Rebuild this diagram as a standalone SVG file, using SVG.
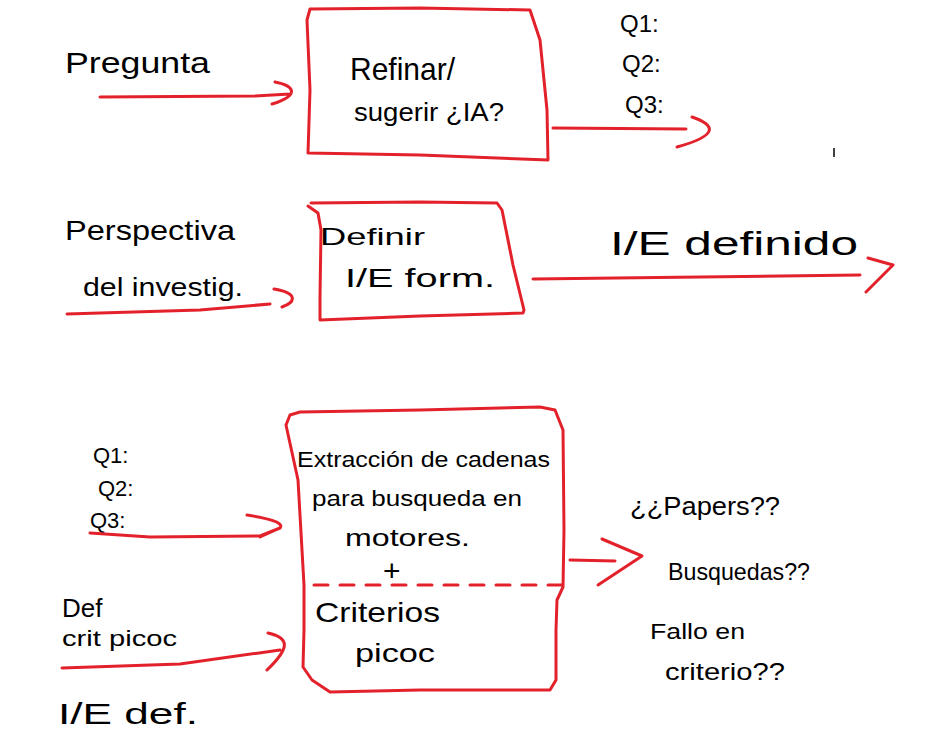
<svg xmlns="http://www.w3.org/2000/svg" width="928" height="743" viewBox="0 0 928 743">
<style>
.r{fill:none;stroke:#e3212b;stroke-width:3;stroke-linecap:round;stroke-linejoin:round}
.d{stroke-dasharray:14 12}
text{font-family:"Liberation Sans","DejaVu Sans",sans-serif;fill:#000}
</style>
<rect width="928" height="743" fill="#fff"/>
<g id="labels">
<text x="65" y="73" font-size="30" textLength="145" lengthAdjust="spacingAndGlyphs">Pregunta</text>
<text x="620" y="32" font-size="24">Q1:</text>
<text x="622" y="72" font-size="24">Q2:</text>
<text x="625" y="113" font-size="24">Q3:</text>
<text x="65" y="240" font-size="28" textLength="170" lengthAdjust="spacingAndGlyphs">Perspectiva</text>
<text x="83" y="296" font-size="26" textLength="160" lengthAdjust="spacingAndGlyphs">del investig.</text>
<text x="610" y="255" font-size="34" textLength="248" lengthAdjust="spacingAndGlyphs">I/E definido</text>
<text x="93" y="463" font-size="22">Q1:</text>
<text x="98" y="496" font-size="22">Q2:</text>
<text x="90" y="528" font-size="22">Q3:</text>
<text x="62" y="617" font-size="26">Def</text>
<text x="62" y="646" font-size="22" textLength="115" lengthAdjust="spacingAndGlyphs">crit picoc</text>
<text x="58" y="724" font-size="30" textLength="140" lengthAdjust="spacingAndGlyphs">I/E def.</text>
<text x="630" y="515" font-size="26" textLength="150" lengthAdjust="spacingAndGlyphs">¿¿Papers??</text>
<text x="668" y="580" font-size="24" textLength="142" lengthAdjust="spacingAndGlyphs">Busquedas??</text>
<text x="650" y="639" font-size="22" textLength="95" lengthAdjust="spacingAndGlyphs">Fallo en</text>
<text x="665" y="680" font-size="24" textLength="120" lengthAdjust="spacingAndGlyphs">criterio??</text>
<line x1="834" y1="148" x2="834" y2="157" stroke="#000" stroke-width="1.5"/>
</g>
<g id="node-refinar">
<path class="r" d="M310,9 L307,20 L310,90 L308,153 L420,155 L548,160 L547,110 L540,40 L530,10 L420,8 Z"/>
<text x="350" y="80" font-size="32" textLength="105" lengthAdjust="spacingAndGlyphs">Refinar/</text>
<text x="354" y="121" font-size="26" textLength="150" lengthAdjust="spacingAndGlyphs">sugerir ¿IA?</text>
</g>
<g id="node-definir">
<path class="r" d="M311,203 L420,202 L497,203 L502,210 L513,265 L524,310 L523,313 L420,316 L320,320 L320,297 L321,230 L318,213 L308,206"/>
<text x="320" y="245" font-size="24" textLength="105" lengthAdjust="spacingAndGlyphs">Definir</text>
<text x="345" y="287" font-size="26" textLength="150" lengthAdjust="spacingAndGlyphs">I/E form.</text>
</g>
<g id="node-extraccion">
<path class="r" d="M290,415 L286,425 L298,480 L304,585 L304,630 L303,667 L312,680 L330,692 L420,690 L550,690 L556,680 L556,630 L557,600 L563,587 L564,530 L563,430 L555,410 L540,407 L420,410 L300,412 Z"/>
<line class="r d" x1="314" y1="585" x2="566" y2="585"/>
<text x="297" y="467" font-size="22" textLength="253" lengthAdjust="spacingAndGlyphs">Extracción de cadenas</text>
<text x="312" y="506" font-size="22" textLength="210" lengthAdjust="spacingAndGlyphs">para busqueda en</text>
<text x="345" y="546" font-size="24" textLength="125" lengthAdjust="spacingAndGlyphs">motores.</text>
<text x="383" y="581" font-size="30">+</text>
<text x="315" y="622" font-size="28" textLength="125" lengthAdjust="spacingAndGlyphs">Criterios</text>
<text x="355" y="662" font-size="26" textLength="80" lengthAdjust="spacingAndGlyphs">picoc</text>
</g>
<g id="connectors">
<path class="r" d="M100,97 L255,96 L290,94 M275,82 C295,86 300,95 272,104"/>
<path class="r" d="M553,128 L686,129 M692,117 C715,125 720,135 677,147"/>
<path class="r" d="M67,314 L200,310 L270,304 M274,289 C298,293 296,302 282,307"/>
<path class="r" d="M533,279 L700,277 L860,275 M868,258 L893,265 L866,292"/>
<path class="r" d="M90,533 L150,537 L260,536 L280,528 M247,515 C265,518 285,522 280,528 L260,537"/>
<path class="r" d="M62,668 L180,664 L280,650 M268,633 C290,638 290,648 267,670"/>
<path class="r" d="M570,560 L615,561 M602,539 L642,556 L598,585"/>
</g>
</svg>
